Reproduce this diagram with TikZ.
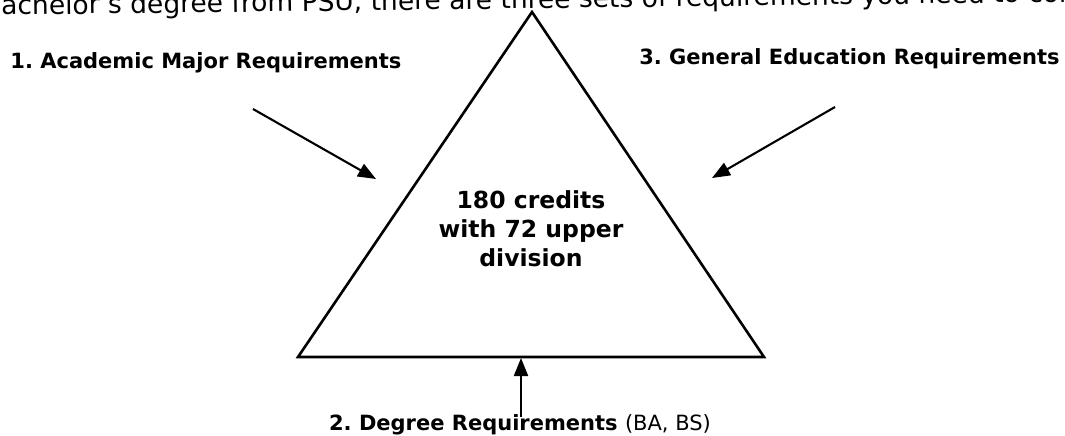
\documentclass[tikz,border=0pt]{standalone}
\usepackage{fontspec}
\setmainfont{DejaVu Sans}
\usetikzlibrary{arrows.meta}
\frenchspacing

\begin{document}
\begin{tikzpicture}[x=1pt,y=-1pt,->,>={Triangle[length=18pt,width=14pt]},thick,
  req node/.style={inner sep=0pt,anchor=base,font=\fontsize{21}{24}\selectfont\bfseries},
  mid node/.style={inner sep=0pt,align=center,font=\fontsize{23.5}{29}\selectfont\bfseries},
  req arrow/.style={line width=2.1pt}]

  \useasboundingbox (0,0) rectangle (1065,436);
  \clip (0,0) rectangle (1065,436);

  % text line cut off at the top of the page
  \node[inner sep=0pt,anchor=base west,rotate=0.7,font=\fontsize{26.5}{30}\selectfont] (intro) at (1,15)
    {\llap{b}achelor's degree from PSU, there are three sets of requirements you need to complete};

  % the triangle
  \coordinate (apex) at (532,12);
  \coordinate (left) at (298,357);
  \coordinate (right) at (764,357);
  \draw[-,line width=2.6pt,line join=miter] (apex) -- (right) -- (left) -- cycle;

  \node[mid node] (credits) at (531,229) {180 credits\\with 72 upper\\division};

  % the three sets
  \node[req node,anchor=base west] (major) at (10,68) {1. Academic Major Requirements};
  \node[req node,anchor=base east] (gened) at (1060,65) {3. General Education Requirements};
  \node[req node] (degree) at (520,430) {2. Degree Requirements {\mdseries(BA, BS)}};

  \coordinate (major tail) at (253,109);
  \coordinate (major tip) at (376,179);
  \coordinate (gened tail) at (835,107);
  \coordinate (gened tip) at (712,178);
  \coordinate (degree tip) at (521,358);

  \path[req arrow]
    (major tail) edge (major tip)
    (gened tail) edge (gened tip)
    ([yshift=-3pt]degree.north -| degree tip) edge (degree tip)
    ;

\end{tikzpicture}
\end{document}
